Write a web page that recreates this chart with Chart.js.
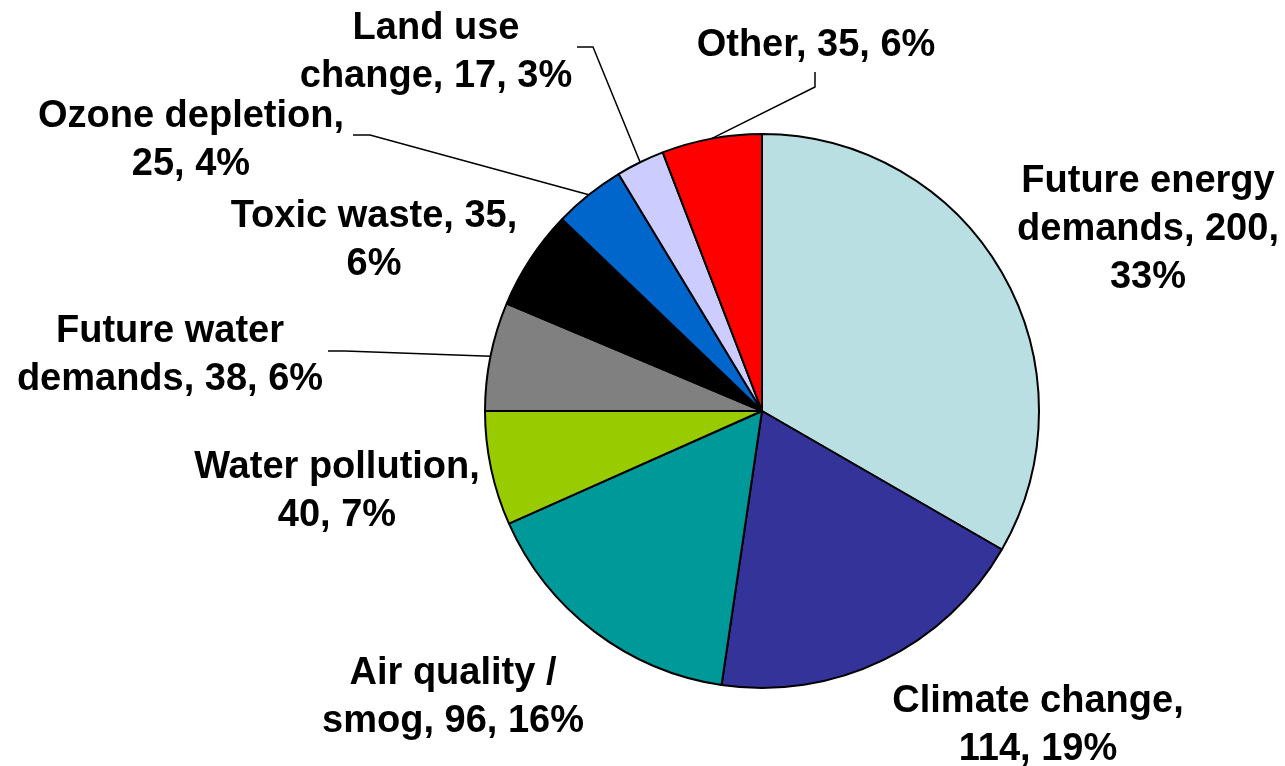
<!DOCTYPE html>
<html>
<head>
<meta charset="utf-8">
<script src="https://cdn.jsdelivr.net/npm/chart.js"></script>
<style>
  html, body { margin: 0; padding: 0; background: #fff; }
  #wrap { width: 1285px; height: 766px; }
</style>
</head>
<body>
<div id="wrap"><canvas id="chart" width="1285" height="766"></canvas></div>
<script>
// data (clockwise from 12 o'clock)
const categories = [
  "Future energy demands", "Climate change", "Air quality / smog",
  "Water pollution", "Future water demands", "Toxic waste",
  "Ozone depletion", "Land use change", "Other"
];
const values = [200, 114, 96, 40, 38, 35, 25, 17, 35];
const colours = [
  "#B9DFE2", "#333399", "#009999", "#99CC00", "#808080",
  "#000000", "#0066CC", "#CCCCFF", "#FF0000"
];

// label layout: words per line, text centre and leader line start (if any)
const wordsPerLine = [[2, 2, 1], [2, 2], [3, 3], [2, 2], [2, 3], [3, 1], [2, 2], [2, 3], [3]];
const labelPos = [
  [1148, 182], [1038, 702], [453, 674], [337, 468], [170, 332],
  [374, 217], [191, 117], [436, 29], [816, 46]
];
const leaders = [
  null, null, null, null,
  [[328, 351], [345, 351]],
  null,
  [[353, 135], [370, 135]],
  [[577, 47], [593, 47]],
  [[815, 72], [815, 87]]
];

const total = values.reduce((a, b) => a + b, 0);

function labelLines(i) {
  const pct = Math.round(values[i] / total * 100);
  const words = `${categories[i]}, ${values[i]}, ${pct}%`.split(" ");
  const lines = [];
  let k = 0;
  for (const n of wordsPerLine[i]) {
    lines.push(words.slice(k, k + n).join(" "));
    k += n;
  }
  return lines;
}

const pieLabels = {
  id: "pieLabels",
  afterDatasetsDraw(chart) {
    const ctx = chart.ctx;
    const arcs = chart.getDatasetMeta(0).data;
    ctx.save();

    // leader lines from label to the middle of the slice edge
    ctx.strokeStyle = "#000";
    ctx.lineWidth = 1.5;
    arcs.forEach((arc, i) => {
      if (!leaders[i]) return;
      const { x, y, startAngle, endAngle, outerRadius } =
        arc.getProps(["x", "y", "startAngle", "endAngle", "outerRadius"], true);
      const mid = (startAngle + endAngle) / 2;
      const ex = x + Math.cos(mid) * outerRadius;
      const ey = y + Math.sin(mid) * outerRadius;
      ctx.beginPath();
      ctx.moveTo(leaders[i][0][0], leaders[i][0][1]);
      ctx.lineTo(leaders[i][1][0], leaders[i][1][1]);
      ctx.lineTo(ex, ey);
      ctx.stroke();
    });

    ctx.fillStyle = "#000";
    ctx.font = 'bold 38px "Liberation Sans", Arial, sans-serif';
    ctx.textAlign = "center";
    ctx.textBaseline = "middle";
    categories.forEach((c, i) => {
      labelLines(i).forEach((line, j) => {
        ctx.fillText(line, labelPos[i][0], labelPos[i][1] + j * 48);
      });
    });
    ctx.restore();
  }
};

new Chart(document.getElementById("chart"), {
  type: "pie",
  data: {
    labels: categories,
    datasets: [{
      data: values,
      backgroundColor: colours,
      borderColor: "#000",
      borderWidth: 2,
      radius: 277
    }]
  },
  options: {
    responsive: false,
    animation: false,
    devicePixelRatio: 1,
    layout: { padding: { left: 300, right: 61, top: 80, bottom: 24 } },
    plugins: {
      legend: { display: false },
      tooltip: { enabled: false }
    }
  },
  plugins: [pieLabels]
});
</script>
</body>
</html>
